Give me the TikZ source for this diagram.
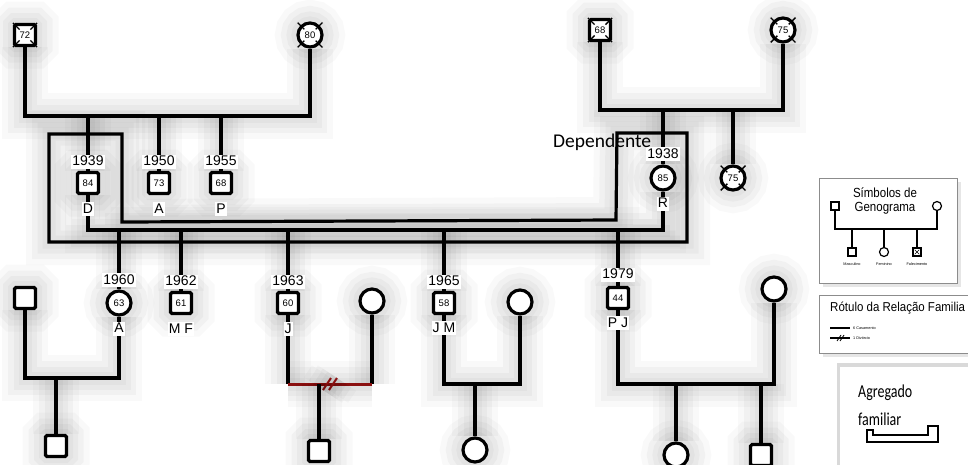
\documentclass[tikz,border=0pt]{standalone}
\usepackage{fontspec}
\setmainfont{Liberation Sans}
\newfontfamily\calfont{Carlito}
\usetikzlibrary{positioning, backgrounds, calc, shadows}
\definecolor{divred}{RGB}{139,16,16}

\begin{document}
\begin{tikzpicture}[
  % one unit is one pixel of the sheet, y runs downwards
  x=1pt, y=-1pt, font=\fontsize{14}{16}\selectfont, node distance=3pt,
  halo/.style={preaction={draw=black, opacity=.025, line width=46pt},
               preaction={draw=black, opacity=.03, line width=34pt},
               preaction={draw=black, opacity=.03, line width=23pt},
               preaction={draw=black, opacity=.03, line width=13pt}},
  ln/.style={line width=3.2pt, halo},
  div/.style={line width=3pt, divred, halo},
  man/.style={draw, line width=3.2pt, fill=white, rounded corners=1.5pt, minimum size=21pt,
              inner sep=0pt, font=\fontsize{9.5}{10}\selectfont, halo},
  wom/.style={man, circle, minimum size=24pt},
  lab/.style={fill=white, inner sep=1pt, text height=10pt, text depth=2pt},
  xl/.style={line width=1.4pt},
  sq/.style={draw, line width=1.2pt, fill=white, minimum size=8pt, inner sep=0pt},
  ci/.style={sq, circle, minimum size=9pt},
  leglab/.style={font=\fontsize{3.8}{4}\selectfont, inner sep=0pt},
  panel/.style={draw=black!45, line width=.6pt, fill=white, anchor=north west, inner sep=0pt,
                drop shadow={opacity=.2, shadow xshift=4pt, shadow yshift=-4pt}},
]
\useasboundingbox (0,0) rectangle (968,464);
% grandparents
\node[man] (gf72) at (25,35) {72};
\node[wom] (gm80) at (310,35) {80};
\node[man] (gf68) at (600,30) {68};
\node[wom] (gm75) at (783,30) {75};
\coordinate (bar1) at (0,116);
\coordinate (bar2) at (0,110);
% siblings
\node[man] (d84) at (88,183) {84};
\node[man] (a73) at (159,183) {73};
\node[man] (p68) at (221,183) {68};
\node[wom] (r85) at (663,178) {85};
\node[wom] (t75) at (733,178) {75};
\coordinate (bar3) at (0,230);
% children of D and R
\node[wom] (a63) at (119,303) {63};
\node[man] (mf61) at (181,303) {61};
\node[man] (j60) at (288,303) {60};
\node[man] (jm58) at (444,303) {58};
\node[man] (pj44) at (618,298) {44};
% partners and grandchildren
\node[man] (sp1) at (25,298) {};
\node[wom] (sp2) at (372,301) {};
\node[wom] (sp3) at (520,302) {};
\node[wom] (sp4) at (774,289) {};
\coordinate (bar4) at (0,378);
\coordinate (bar5) at (0,384);
\coordinate (cut) at (331,384);
\node[man] (c1) at (56,446) {};
\node[man] (c2) at (319,451) {};
\node[wom] (c3) at (475,450) {};
\node[wom] (c4) at (676,455) {};
\node[man] (c5) at (761,455) {};

\begin{scope}[on background layer]
  % household outline
  \draw[ln] (49,134) -- (122,134) -- (122,222) -- (616,220) -- (617,133) -- (687,133)
    -- (687,242) -- (49,242) -- cycle;
  % couples and their children
  \draw[ln] (gf72) -- (gf72 |- bar1) -- (gm80 |- bar1) -- (gm80);
  \foreach \n in {d84,a73,p68} \draw[ln] (\n |- bar1) -- (\n);
  \draw[ln] (gf68) -- (gf68 |- bar2) -- (gm75 |- bar2) -- (gm75);
  \foreach \n in {r85,t75} \draw[ln] (\n |- bar2) -- (\n);
  \draw[ln] (d84) -- (d84 |- bar3) -- (r85 |- bar3) -- (r85);
  \foreach \n in {a63,mf61,j60,jm58,pj44} \draw[ln] (\n |- bar3) -- (\n);
  \draw[ln] (sp1) -- (sp1 |- bar4) -- (a63 |- bar4) -- (a63);
  \draw[ln] (c1 |- bar4) -- (c1);
  \draw[ln] (j60) -- (j60 |- bar5);
  \draw[ln] (sp2) -- (sp2 |- bar5);
  \draw[div] (j60 |- bar5) -- (sp2 |- bar5);
  \draw[div, line width=2pt] ($(cut)+(-8,6)$) -- ++(8,-12) ($(cut)+(-2,6)$) -- ++(8,-12);
  \draw[ln] (c2 |- bar5) -- (c2);
  \draw[ln] (jm58) -- (jm58 |- bar5) -- (sp3 |- bar5) -- (sp3);
  \draw[ln] (c3 |- bar5) -- (c3);
  \draw[ln] (pj44) -- (pj44 |- bar5) -- (sp4 |- bar5) -- (sp4);
  \foreach \n in {c4,c5} \draw[ln] (\n |- bar5) -- (\n);
\end{scope}

% birth years and initials
\foreach \n/\y/\g in {d84/1939/2pt, a73/1950/2pt, p68/1955/2pt, r85/1938/3pt, a63/1960/2pt,
                      mf61/1962/2pt, j60/1963/2pt, jm58/1965/2pt, pj44/1979/4pt}
  \node[lab, above=\g of \n] (\n-yr) {\y};
\foreach \n/\i/\g in {d84/D/7pt, a73/A/7pt, p68/P/7pt, r85/R/5pt, a63/A/5pt,
                      mf61/M F/7pt, j60/J/7pt, jm58/J M/6pt, pj44/P J/6pt}
  \node[lab, below=\g of \n] (\n-in) {\i};
% deceased
\foreach \n in {gf72,gf68} \foreach \a in {45,135,225,315}
  \draw[xl] ($(\n.center)!.45!(\n.\a)$) -- (\n.\a);
\foreach \n in {gm80,gm75,t75} \foreach \a in {45,135,225,315}
  \draw[xl] ($(\n.center)+(\a:8)$) -- ($(\n.center)+(\a:17.5)$);
\node[font=\calfont\fontsize{19.5}{20}\selectfont, anchor=base west, inner sep=0pt] (dep)
  at (553,147) {Dependente};

% legend: symbols
\node[panel, minimum width=138pt, minimum height=105pt] (sym) at (819,178) {};
\node[font=\fontsize{11.5}{12}\selectfont, inner sep=0pt] (symt1) at (885,193) {\scalebox{1}[1.15]{Símbolos de}};
\node[font=\fontsize{11.5}{12}\selectfont, inner sep=0pt] (symt2) at (885,208) {\scalebox{1}[1.15]{Genograma}};
\node[sq] (lm) at (835,206) {};
\node[ci] (lf) at (937,206) {};
\coordinate (lbar) at (0,229);
\node[sq] (lc1) at (852,252) {};
\node[ci] (lc2) at (884,252) {};
\node[sq] (lc3) at (917,252) {};
\draw[line width=1.2pt] (lm) -- (lm |- lbar) -- (lf |- lbar) -- (lf);
\foreach \n in {lc1,lc2,lc3} \draw[line width=1.2pt] (\n |- lbar) -- (\n);
\draw[line width=.5pt] ($(lc3.north west)!.25!(lc3.south east)$) -- ($(lc3.north west)!.75!(lc3.south east)$)
  ($(lc3.north east)!.25!(lc3.south west)$) -- ($(lc3.north east)!.75!(lc3.south west)$);
\node[leglab] (lc1t) at (852,264) {Masculino};
\node[leglab] (lc2t) at (884,264) {Feminino};
\node[leglab] (lc3t) at (917,264) {Falecimento};

% legend: relations
\node[panel, minimum width=160pt, minimum height=58pt] (rel) at (819,295) {};
\node[anchor=west, font=\fontsize{11.5}{12}\selectfont, inner sep=0pt] (relt) at (830,308)
  {\scalebox{1}[1.12]{Rótulo da Relação Familia}};
\coordinate (cas) at (830,328);
\coordinate (dvc) at (830,338);
\node[leglab, anchor=west] (cast) at (853,328) {6 Casamento};
\node[leglab, anchor=west] (dvct) at (853,338) {1 Divórcio};
\draw[line width=1.2pt, shorten >=3pt] (cas) -- (cast.west);
\draw[line width=1.2pt, shorten >=3pt] (dvc) -- (dvct.west);
\draw[line width=.8pt] ($(dvc)+(7,3)$) -- ++(4,-6) ($(dvc)+(10,3)$) -- ++(4,-6);

% legend: household
\node[fill=white, anchor=north west, inner sep=0pt, minimum width=140pt, minimum height=110pt,
  drop shadow={opacity=.3, shadow xshift=-3pt, shadow yshift=4pt}] (hh) at (840,367) {};
\node[font=\calfont\fontsize{14}{16}\selectfont, anchor=base west, inner sep=0pt] (hht1)
  at (858,397) {\scalebox{1}[1.3]{Agregado}};
\node[font=\calfont\fontsize{14}{16}\selectfont, anchor=base west, inner sep=0pt] (hht2)
  at (858,425) {\scalebox{1}[1.3]{familiar}};
\draw[line width=1.8pt] (867,430) -- (873,430) -- (873,435) -- (928,435) -- (928,426)
  -- (938,426) -- (938,442) -- (867,442) -- cycle;
\end{tikzpicture}
\end{document}
